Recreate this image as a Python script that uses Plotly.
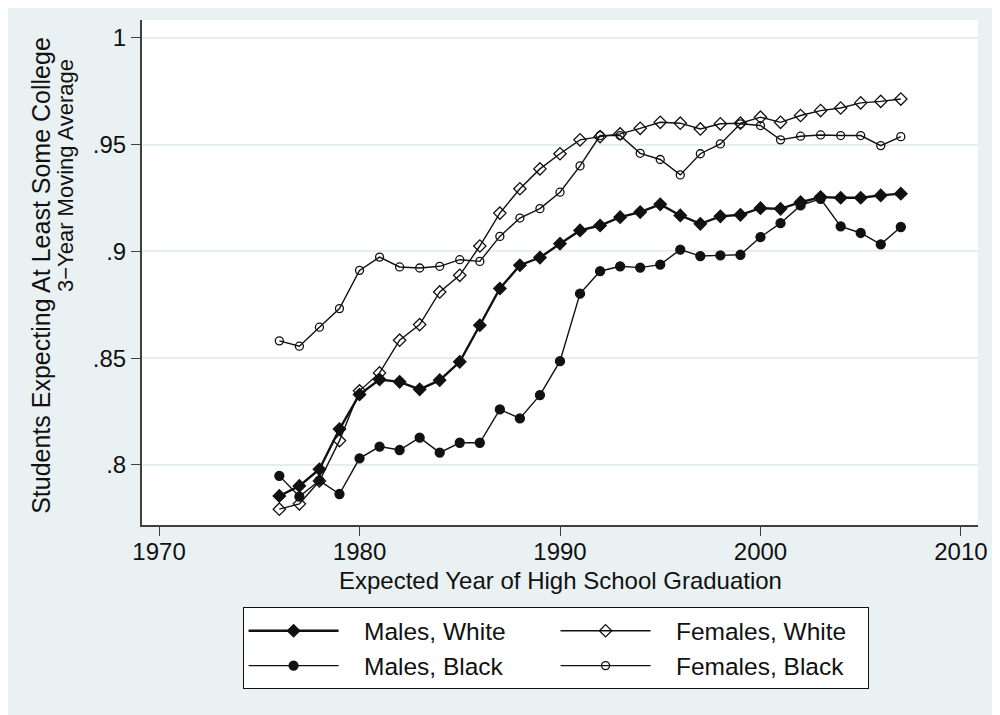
import plotly.graph_objects as go

years = list(range(1976, 2008))

males_white = [0.7855, 0.7902, 0.7980, 0.8168, 0.8330, 0.8400, 0.8389, 0.8354, 0.8397, 0.8483,
               0.8654, 0.8826, 0.8935, 0.8971, 0.9036, 0.9098, 0.9121, 0.9160, 0.9184, 0.9220,
               0.9168, 0.9129, 0.9164, 0.9171, 0.9202, 0.9199, 0.9230, 0.9254, 0.9251, 0.9251,
               0.9262, 0.9270]

females_white = [0.7793, 0.7818, 0.7925, 0.8114, 0.8347, 0.8431, 0.8584, 0.8657, 0.8810, 0.8888,
                 0.9025, 0.9179, 0.9293, 0.9386, 0.9457, 0.9522, 0.9537, 0.9550, 0.9576, 0.9604,
                 0.9600, 0.9573, 0.9597, 0.9600, 0.9628, 0.9604, 0.9636, 0.9659, 0.9671, 0.9695,
                 0.9702, 0.9713]

males_black = [0.7949, 0.7852, 0.7927, 0.7864, 0.8031, 0.8086, 0.8070, 0.8128, 0.8058, 0.8104,
               0.8104, 0.8260, 0.8218, 0.8327, 0.8486, 0.8802, 0.8907, 0.8930, 0.8924, 0.8938,
               0.9008, 0.8978, 0.8981, 0.8984, 0.9067, 0.9132, 0.9215, 0.9246, 0.9117, 0.9086,
               0.9033, 0.9114]

females_black = [0.8581, 0.8556, 0.8645, 0.8732, 0.8911, 0.8973, 0.8927, 0.8922, 0.8930, 0.8961,
                 0.8953, 0.9070, 0.9156, 0.9200, 0.9277, 0.9400, 0.9542, 0.9542, 0.9459, 0.9430,
                 0.9358, 0.9457, 0.9503, 0.9597, 0.9589, 0.9522, 0.9539, 0.9545, 0.9542, 0.9542,
                 0.9495, 0.9537]

series_names = ["Males, White", "Females, White", "Males, Black", "Females, Black"]
x_ticks = [1970, 1980, 1990, 2000, 2010]
y_ticks = [0.8, 0.85, 0.9, 0.95, 1.0]
y_tick_labels = [".8", ".85", ".9", ".95", "1"]
y_title_1 = "Students Expecting At Least Some College"
y_title_2 = "3\u2212Year Moving Average"
x_title = "Expected Year of High School Graduation"

BG = "#EAF1F3"
INK = "#111111"
FONT = "Liberation Sans, Arial, sans-serif"
FS = 24

styles = [
    dict(symbol="diamond", size=9.5, lw=2.4),
    dict(symbol="diamond-open", size=9.5, lw=1.4),
    dict(symbol="circle", size=9, lw=1.4),
    dict(symbol="circle-open", size=8, lw=1.4),
]
data = [males_white, females_white, males_black, females_black]

fig = go.Figure()
for name, vals, st in zip(series_names, data, styles):
    fig.add_trace(go.Scatter(
        x=years, y=vals, name="\u00a0\u00a0\u00a0" + name, mode="lines+markers",
        line=dict(color=INK, width=st["lw"]),
        marker=dict(symbol=st["symbol"], size=st["size"], color=INK,
                    line=dict(color=INK, width=1.3)),
    ))

fig.add_annotation(text=y_title_1, xref="paper", yref="paper", x=-0.121, y=0.495,
                   textangle=-90, showarrow=False, xanchor="center", yanchor="middle",
                   font=dict(family=FONT, size=25, color=INK))
fig.add_annotation(text=y_title_2, xref="paper", yref="paper", x=-0.0915, y=0.692,
                   textangle=-90, showarrow=False, xanchor="center", yanchor="middle",
                   font=dict(family=FONT, size=22, color=INK))
fig.add_annotation(text=x_title, xref="paper", yref="paper", x=0.5, y=-0.11,
                   showarrow=False, xanchor="center", yanchor="middle",
                   font=dict(family=FONT, size=FS, color=INK))

# the page body adds an 8px offset; the figure is sized to fill the rest of the window
fig.update_layout(
    width=992, height=707,
    margin=dict(l=134, r=15, t=12, b=190),
    paper_bgcolor=BG, plot_bgcolor="white",
    font=dict(family=FONT, size=FS, color=INK),
    showlegend=True,
    legend=dict(
        orientation="h", x=0.4947, xanchor="center", y=-0.163, yanchor="top",
        bgcolor="white", bordercolor=INK, borderwidth=1,
        font=dict(family=FONT, size=24.5, color=INK),
        entrywidth=207, entrywidthmode="pixels", itemwidth=90,
        traceorder="normal",
    ),
    xaxis=dict(
        range=[1969.15, 2010.85], tickmode="array", tickvals=x_ticks,
        ticks="outside", ticklen=9, tickwidth=1, tickcolor="#404040",
        showline=True, linecolor="#404040", linewidth=2, mirror=False,
        showgrid=False, zeroline=False, ticklabelstandoff=-5,
        tickfont=dict(family=FONT, size=FS, color=INK),
    ),
    yaxis=dict(
        range=[0.7719, 1.0083], tickmode="array", tickvals=y_ticks, ticktext=y_tick_labels,
        ticks="outside", ticklen=9, tickwidth=1, tickcolor="#404040",
        showline=True, linecolor="#404040", linewidth=2, mirror=False,
        showgrid=True, gridcolor="#E4EDEF", gridwidth=2, zeroline=False,
        tickfont=dict(family=FONT, size=FS, color=INK),
    ),
)

fig.write_html("out.html")
